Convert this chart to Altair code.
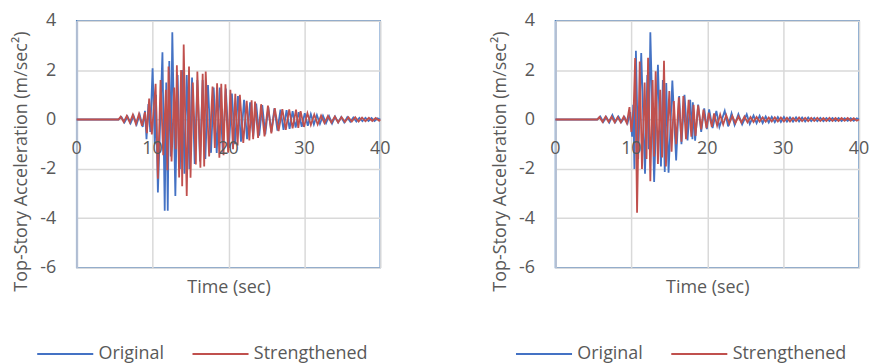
import altair as alt
import pandas as pd

TIME_TICKS = [0, 10, 20, 30, 40]
TIME_LABELS = ["0", "10", "20", "30", "40"]
ACC_TICKS = [-6, -4, -2, 0, 2, 4]
SERIES = ["Original", "Strengthened"]
COLORS = ["#4472C4", "#C0504D"]

# (time s, acceleration m/s^2), left panel
LEFT_ORIGINAL = [
    (0, 0), (5.5, 0), (5.9, 0.1), (6.3, -0.12), (6.7, 0.12), (7.1, -0.15), (7.5, 0.15), (7.9, -0.2),
    (8.3, 0.2), (8.7, -0.3), (9.0, 0.35), (9.2, -0.8), (9.45, 0.63), (9.7, -0.5), (10.0, 2.08),
    (10.3, -1.0), (10.45, 1.0), (10.7, -2.96), (11.3, 2.72), (11.6, -3.7), (11.8, 1.5), (12.0, -3.7),
    (12.2, 2.37), (12.4, -1.5), (12.6, 3.53), (13.0, -3.1), (13.3, 1.8), (13.6, -2.0), (13.9, 2.0),
    (14.2, -2.2), (14.5, 1.8), (14.85, -2.0), (15.2, 1.7), (15.55, -1.8), (15.9, 1.6), (16.25, -1.7),
    (16.6, 1.6), (16.95, -1.6), (17.3, 1.4), (17.7, -1.35), (18.05, 1.3), (18.45, -1.35), (18.85, 1.3),
    (19.25, -1.3), (19.65, 1.25), (20.05, -1.15), (20.45, 1.05), (20.85, -1.0), (21.25, 0.95),
    (21.65, -0.9), (22.05, 0.8), (22.45, -0.8), (22.85, 0.7), (23.25, -0.7), (23.65, 0.65),
    (24.05, -0.65), (24.45, 0.58), (24.85, -0.6), (25.25, 0.5), (25.65, -0.5), (26.05, 0.45),
    (26.45, -0.45), (26.85, 0.4), (27.25, -0.42), (27.65, 0.38), (28.05, -0.38), (28.45, 0.34),
    (28.85, -0.33), (29.25, 0.3), (29.65, -0.3), (30.05, 0.26), (30.45, -0.25), (30.85, 0.22),
    (31.25, -0.2), (31.65, 0.18), (32.05, -0.18), (32.45, 0.15), (32.85, -0.15), (33.25, 0.14),
    (33.65, -0.16), (34.05, 0.12), (34.45, -0.12), (34.85, 0.1), (35.25, -0.12), (35.65, 0.09),
    (36.05, -0.09), (36.45, 0.08), (36.85, -0.08), (37.25, 0.07), (37.65, -0.07), (38.05, 0.07),
    (38.45, -0.06), (38.85, 0.06), (39.25, -0.06), (39.65, 0.05), (40, 0),
]

LEFT_STRENGTHENED = [
    (0, 0), (5.5, 0), (5.8, 0.12), (6.2, -0.1), (6.6, 0.15), (7.0, -0.12), (7.4, 0.2), (7.8, -0.18),
    (8.2, 0.22), (8.6, -0.25), (9.0, 0.3), (9.25, -0.55), (9.55, 0.85), (9.9, -0.6), (10.4, 1.45),
    (10.7, -2.4), (11.05, 1.6), (11.4, -1.45), (11.75, 1.2), (11.95, -2.05), (12.1, 2.15),
    (12.5, -1.7), (12.85, 1.3), (13.05, -1.2), (13.2, 2.2), (13.5, -2.35), (13.75, 2.0), (13.9, -2.7),
    (14.1, 3.04), (14.5, -3.1), (14.8, 2.15), (15.0, -2.36), (15.3, 1.5), (15.7, -1.82), (15.9, 1.94),
    (16.3, -1.95), (16.6, 1.85), (16.8, -1.9), (17.0, 1.94), (17.45, -1.5), (17.9, 1.34), (18.2, -1.15),
    (18.5, 1.47), (18.8, -1.55), (19.05, 1.45), (19.35, -1.45), (19.6, 1.43), (19.95, -1.35),
    (20.25, 1.2), (20.6, -1.2), (20.9, 1.04), (21.2, -1.05), (21.5, 1.0), (21.95, -0.95), (22.4, 0.76),
    (22.75, -0.85), (23.05, 0.78), (23.25, -0.8), (23.5, 0.73), (23.9, -0.75), (24.3, 0.62),
    (24.75, -0.68), (25.2, 0.56), (25.65, -0.56), (26.1, 0.46), (26.6, -0.47), (27.1, 0.42),
    (27.55, -0.42), (28.0, 0.41), (28.45, -0.36), (28.9, 0.4), (29.2, -0.34), (29.5, 0.34),
    (29.95, -0.3), (30.4, 0.26), (30.85, -0.22), (31.3, 0.2), (31.75, -0.2), (32.2, 0.16),
    (32.65, -0.15), (33.1, 0.14), (33.55, -0.13), (34.0, 0.12), (34.45, -0.12), (34.9, 0.1),
    (35.35, -0.1), (35.8, 0.09), (36.25, -0.08), (36.7, 0.09), (37.15, -0.08), (37.6, 0.08),
    (38.05, -0.07), (38.5, 0.07), (38.95, -0.06), (39.4, 0.06), (39.85, -0.05), (40, 0),
]

# right panel
RIGHT_ORIGINAL = [
    (0, 0), (5.5, 0), (5.9, 0.12), (6.3, -0.1), (6.7, 0.1), (7.1, -0.12), (7.5, 0.18), (7.9, -0.1),
    (8.3, 0.12), (8.7, -0.1), (9.1, 0.1), (9.5, -0.15), (9.85, 0.3), (10.1, -0.7), (10.25, 0.6),
    (10.4, -2.0), (10.6, 2.78), (10.9, -1.6), (11.3, 2.69), (11.8, -2.2), (12.1, 1.8), (12.3, -1.2),
    (12.5, 3.53), (13.0, -2.53), (13.5, 2.22), (13.9, -1.9), (14.15, 1.6), (14.4, -2.13), (14.6, 1.48),
    (14.9, -2.16), (15.4, 1.58), (15.9, -1.66), (16.3, 0.95), (16.6, -1.0), (17.0, 1.0), (17.4, -0.85),
    (17.75, 0.8), (18.05, -0.8), (18.1, 0.7), (18.4, -0.86), (18.8, 0.6), (19.2, -0.5), (19.6, 0.45),
    (19.95, -0.39), (20.25, 0.41), (20.7, -0.35), (21.2, 0.35), (21.6, -0.3), (22.3, 0.35),
    (22.75, -0.28), (23.2, 0.25), (23.6, -0.22), (24.1, 0.22), (24.6, -0.2), (25.2, 0.21),
    (25.6, -0.18), (26.1, 0.16), (26.5, -0.15), (26.9, 0.15), (27.3, -0.14), (27.7, 0.12),
    (28.1, -0.12), (28.5, 0.11), (28.9, -0.11), (29.3, 0.1), (29.7, -0.1), (30.1, 0.1), (30.5, -0.09),
    (30.9, 0.09), (31.3, -0.09), (31.7, 0.09), (32.1, -0.08), (32.5, 0.08), (32.9, -0.08), (33.3, 0.08),
    (33.7, -0.07), (34.1, 0.07), (34.5, -0.07), (34.9, 0.07), (35.3, -0.07), (35.7, 0.06), (36.1, -0.06),
    (36.5, 0.06), (36.9, -0.06), (37.3, 0.06), (37.7, -0.06), (38.1, 0.05), (38.5, -0.05), (38.9, 0.05),
    (39.3, -0.05), (39.7, 0.05), (40, 0),
]

RIGHT_STRENGTHENED = [
    (0, 0), (5.5, 0), (5.8, 0.1), (6.2, -0.1), (6.6, 0.12), (7.0, -0.1), (7.4, 0.12), (7.8, -0.12),
    (8.2, 0.1), (8.6, -0.12), (9.0, 0.12), (9.4, -0.15), (9.75, 0.5), (10.0, -0.5), (10.3, 0.4),
    (10.5, 2.49), (10.75, -3.78), (11.1, 2.35), (11.4, -2.0), (11.75, 1.5), (12.0, -1.6), (12.2, 2.5),
    (12.5, -2.5), (12.8, 1.6), (13.0, -1.5), (13.2, 1.95), (13.5, -1.8), (13.8, 1.2), (14.05, -1.54),
    (14.3, 2.38), (14.55, -1.9), (15.0, 1.15), (15.3, -1.3), (15.6, 0.75), (15.9, -1.0), (16.25, 0.9),
    (16.6, -0.9), (16.85, 0.95), (17.2, -0.8), (17.55, 0.8), (17.9, -0.7), (18.2, 0.6), (18.45, -0.66),
    (18.8, 0.57), (19.2, -0.4), (19.5, 0.4), (19.9, -0.35), (20.2, 0.28), (20.6, -0.3), (20.9, 0.25),
    (21.3, -0.25), (21.7, 0.2), (22.1, -0.2), (22.5, 0.18), (22.9, -0.17), (23.3, 0.15), (23.7, -0.15),
    (24.1, 0.13), (24.5, -0.13), (24.9, 0.12), (25.3, -0.12), (25.7, 0.1), (26.1, -0.1), (26.5, 0.1),
    (26.9, -0.09), (27.3, 0.09), (27.7, -0.09), (28.1, 0.08), (28.5, -0.08), (28.9, 0.09), (29.3, -0.08),
    (29.7, 0.08), (30.1, -0.08), (30.5, 0.07), (30.9, -0.08), (31.3, 0.07), (31.7, -0.07), (32.1, 0.08),
    (32.5, -0.07), (32.9, 0.07), (33.3, -0.07), (33.7, 0.07), (34.1, -0.06), (34.5, 0.07), (34.9, -0.06),
    (35.3, 0.06), (35.7, -0.06), (36.1, 0.07), (36.5, -0.06), (36.9, 0.06), (37.3, -0.06), (37.7, 0.06),
    (38.1, -0.05), (38.5, 0.06), (38.9, -0.05), (39.3, 0.05), (39.7, -0.05), (40, 0),
]

FONT = "Open Sans"
TEXT_COLOR = "#595959"
FS = 18
GRID = "#D9D9D9"


def series_frame(original, strengthened):
    rows = []
    for name, pts in ((SERIES[0], original), (SERIES[1], strengthened)):
        for t, a in pts:
            rows.append({"t": t, "a": a, "series": name})
    return pd.DataFrame(rows)


def panel(original, strengthened):
    df = series_frame(original, strengthened)
    xs = alt.Scale(domain=[0, 40], nice=False, zero=False)
    ys = alt.Scale(domain=[-6, 4], nice=False, zero=False)
    x_axis = alt.Axis(
        values=TIME_TICKS, labels=False, ticks=False, domain=False,
        grid=True, gridColor=GRID, gridWidth=1.5,
        title="Time (sec)", titlePadding=11, titleFont=FONT, titleFontSize=FS,
        titleFontWeight="normal", titleColor=TEXT_COLOR)
    y_axis = alt.Axis(
        values=ACC_TICKS, ticks=False, domain=True, domainColor="#B4C0D4", domainWidth=2,
        grid=True, gridColor=GRID, gridWidth=1.5,
        labelPadding=21, labelFont=FONT, labelFontSize=FS, labelColor=TEXT_COLOR,
        labelExpr="'' + datum.value",
        title="Top-Story Acceleration (m/sec²)", titlePadding=9, titleY=141, titleFont=FONT,
        titleFontSize=FS, titleFontWeight="normal", titleColor=TEXT_COLOR)
    lines = alt.Chart(df).mark_line(strokeWidth=1.8).encode(
        x=alt.X("t:Q", scale=xs, axis=x_axis),
        y=alt.Y("a:Q", scale=ys, axis=y_axis),
        color=alt.Color("series:N", scale=alt.Scale(domain=SERIES, range=COLORS),
                        legend=alt.Legend(
                            title=None, orient="none", direction="horizontal",
                            legendX=-41, legendY=305, symbolType="stroke",
                            symbolSize=3170, symbolStrokeWidth=2, labelFont=FONT,
                            labelFontSize=FS, labelColor=TEXT_COLOR, labelOffset=4,
                            columnPadding=24)),
    )
    tick_df = pd.DataFrame({"t": TIME_TICKS, "label": TIME_LABELS, "a": [0] * len(TIME_TICKS)})
    labels = alt.Chart(tick_df).mark_text(
        dy=35, baseline="alphabetic", font=FONT, fontSize=FS, color=TEXT_COLOR
    ).encode(
        x=alt.X("t:Q", scale=xs, axis=x_axis),
        y=alt.Y("a:Q", scale=ys, axis=y_axis),
        text="label:N",
    )
    return alt.layer(lines, labels).properties(width=305, height=248)


left = panel(LEFT_ORIGINAL, LEFT_STRENGTHENED)
right = panel(RIGHT_ORIGINAL, RIGHT_STRENGTHENED)

chart = alt.hconcat(left, right, spacing=99).resolve_scale(
    color="independent"
).resolve_legend(color="independent").properties(
    padding={"left": 4, "top": 2, "right": 0, "bottom": 0}
).configure(font=FONT).configure_view(stroke="#4F81BD", strokeWidth=1.5)

chart.save("out.html", embed_options={"renderer": "svg", "actions": False})
